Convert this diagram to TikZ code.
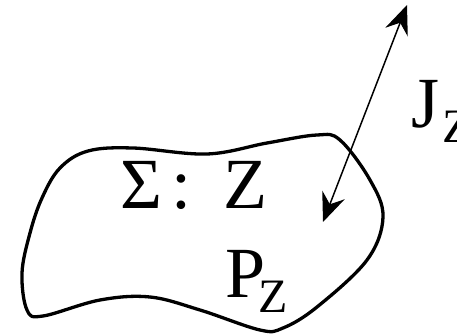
\documentclass[tikz,border=0pt]{standalone}
\usepackage{fontspec}
\setmainfont{Liberation Serif}
\usetikzlibrary{arrows.meta}
\newcommand{\lowsub}[1]{\raisebox{-15pt}{\fontsize{48}{52}\selectfont #1}}
\tikzset{
  blob/.style={line width=3.3pt, line join=round},
  jhead/.tip={Stealth[length=29pt,width=24pt,inset=10pt]},
  jarrow/.style={line width=1.5pt, jhead-jhead},
  bigtxt/.style={inner sep=0pt, anchor=base west, font=\fontsize{72}{76}\selectfont}
}
\begin{document}
\begin{tikzpicture}[x=1pt,y=-1pt]
\useasboundingbox (0,0) rectangle (457,334);
\draw[blob] plot[smooth cycle, tension=0.6] coordinates {
 (88,151) (133,148) (207,154) (267,143) (317,135) (340,140) (370,180) (383,217)
 (367,260) (317,307) (283,328) (260,330) (200,310) (150,297) (100,300) (43,316)
 (27,310) (22,273) (30,233) (42,198) (60,168)};
\coordinate (jtop) at (407,5);
\coordinate (jbot) at (323,222);
\draw[jarrow] (jbot) -- (jtop);
\node[bigtxt] (sigma) at (120,208) {Σ\hspace{9pt}:\hspace{32pt}Z};
\node[bigtxt] (P) at (225,297) {P\hspace{-7pt}\lowsub{Z}};
\node[bigtxt] (J) at (411,127) {J\hspace{3pt}\lowsub{Z}};
\end{tikzpicture}
\end{document}
